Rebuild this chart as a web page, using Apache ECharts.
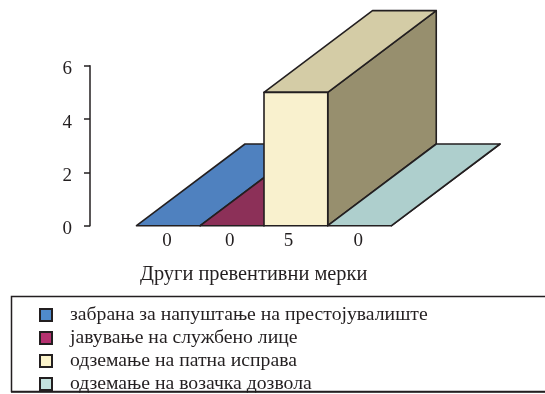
<!DOCTYPE html>
<html><head><meta charset="utf-8">
<style>html,body{margin:0;padding:0;background:#fff}#c{width:545px;height:394px}</style>
<script src="https://cdn.jsdelivr.net/npm/echarts@6/dist/echarts.min.js"></script>
</head><body><div id="c"></div>
<script>
const categories = ['0', '0', '5', '0'];
const seriesNames = ['забрана за напуштање на престојувалиште', 'јавување на службено лице', 'одземање на патна исправа', 'одземање на возачка дозвола'];
const seriesValues = [0, 0, 5, 0];
const yTicks = [0, 2, 4, 6];
const axisTitle = 'Други превентивни мерки';
const legendColors = ['#4f8acb', '#b5316f', '#fbf3ca', '#c3e2de'];
const frontColors = ['#4f81bf', '#8c3058', '#f9f1ce', '#aecfcd'];
const topColors = ['#4f81bf', '#8c3058', '#d4cca6', '#aecfcd'];
const sideColors = ['#4f81bf', '#8c3058', '#978f6e', '#aecfcd'];

const ink = '#231f20';
const serif = '"Liberation Serif","Times New Roman",serif';
const depthX = 108.5, depthY = 81.7;

function bar3d(i) {
  return function (params, api) {
    const c = api.value(0), v = api.value(1);
    const w = api.size([1, 0])[0];
    const t = api.coord([c, v]), b = api.coord([c, 0]);
    const l = t[0] - w / 2, r = t[0] + w / 2, yt = t[1], yb = b[1];
    const poly = (pts, fill) => ({
      type: 'polygon',
      shape: { points: pts },
      style: { fill: fill, stroke: ink, lineWidth: 1.6, lineJoin: 'round' }
    });
    const kids = [
      poly([[r, yb], [r + depthX, yb - depthY], [r + depthX, yt - depthY], [r, yt]], sideColors[i]),
      poly([[l, yt], [r, yt], [r + depthX, yt - depthY], [l + depthX, yt - depthY]], topColors[i])
    ];
    if (v > 0) kids.push(poly([[l, yb], [r, yb], [r, yt], [l, yt]], frontColors[i]));
    return { type: 'group', children: kids };
  };
}

const chart = echarts.init(document.getElementById('c'), null, { renderer: 'canvas' });
chart.setOption({
  animation: false,
  backgroundColor: '#fff',
  textStyle: { fontFamily: serif, color: ink },
  title: {
    text: axisTitle, left: 140, top: 265, padding: 0,
    textStyle: { fontFamily: serif, fontSize: 20.4, fontWeight: 'normal', color: ink }
  },
  grid: { left: 136.5, top: 65.7, width: 255, height: 160 },
  xAxis: {
    type: 'category', data: categories,
    axisLine: { show: false }, axisTick: { show: false }, splitLine: { show: false },
    axisLabel: {
      margin: 6, fontFamily: serif, fontSize: 19, color: ink, interval: 0,
      formatter: (val, idx) => '{c' + idx + '|' + val + '}',
      rich: {
        c0: { padding: [0, 3, 0, 0] },
        c1: { padding: [0, 5, 0, 0] },
        c2: { padding: [0, 15, 0, 0] },
        c3: { padding: [0, 3, 0, 0] }
      }
    }
  },
  yAxis: {
    type: 'value', min: yTicks[0], max: yTicks[yTicks.length - 1], interval: yTicks[1] - yTicks[0],
    offset: 46.5, splitLine: { show: false },
    axisLine: { show: true, lineStyle: { color: ink, width: 1.5 } },
    axisTick: { show: true, length: 6, lineStyle: { color: ink, width: 1.5 } },
    axisLabel: {
      margin: 18, fontFamily: serif, fontSize: 19, color: ink,
      formatter: '{v|{value}}',
      rich: { v: { fontFamily: serif, fontSize: 19, color: ink, padding: [7, 0, 0, 0] } }
    }
  },
  legend: {
    left: 39, top: 301.5, height: 120, width: 500, orient: 'vertical', itemWidth: 12, itemHeight: 12, itemGap: -4, padding: 0,
    icon: 'rect', selectedMode: false,
    data: seriesNames,
    textStyle: { fontFamily: serif, fontSize: 19.7, color: ink, padding: [10, 0, 0, 13], lineHeight: 17 }
  },
  graphic: [
    { type: 'rect', silent: true, z: 0, shape: { x: 11.5, y: 296.5, width: 540, height: 95 },
      style: { fill: 'none', stroke: ink, lineWidth: 1.5 } },
    { type: 'line', silent: true, z: 0, shape: { x1: 11, y1: 392, x2: 545, y2: 392 },
      style: { stroke: ink, lineWidth: 1.5 } }
  ],
  series: seriesNames.map((name, i) => ({
    type: 'custom', name: name,
    coordinateSystem: 'cartesian2d',
    encode: { x: 0, y: 1 },
    itemStyle: { color: legendColors[i], borderColor: ink, borderWidth: 1.5 },
    renderItem: bar3d(i),
    data: [[i, seriesValues[i]]]
  }))
});
</script></body></html>
